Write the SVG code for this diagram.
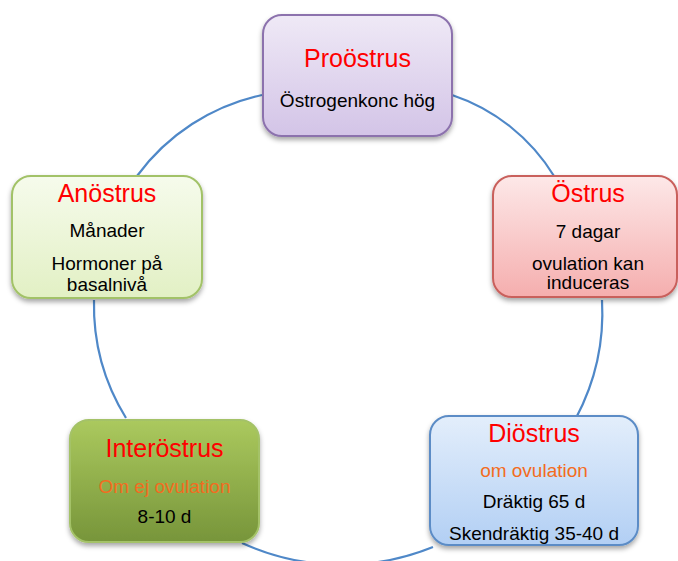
<svg xmlns="http://www.w3.org/2000/svg" width="678" height="561" viewBox="0 0 678 561">
<style>
.box{stroke-width:2;filter:url(#sh)}
.t{font-family:"Liberation Sans",Arial,sans-serif;text-anchor:middle}
.ti{font-size:25px;fill:#ff0000}
.b{font-size:19px;fill:#000}
.o{font-size:19px;fill:#f36c21}
.conn{fill:none;stroke:#4f88c8;stroke-width:2.2}
</style>
<defs>
<filter id="sh" x="-10%" y="-10%" width="125%" height="130%">
<feDropShadow dx="0" dy="3" stdDeviation="2.5" flood-color="#000" flood-opacity="0.35"/>
</filter>
<linearGradient id="gP" x1="0" y1="0" x2="0" y2="1"><stop offset="0" stop-color="#efe9f6"/><stop offset="1" stop-color="#d3c4e7"/></linearGradient>
<linearGradient id="gA" x1="0" y1="0" x2="0" y2="1"><stop offset="0" stop-color="#f6fbec"/><stop offset="1" stop-color="#e2f0c4"/></linearGradient>
<linearGradient id="gO" x1="0" y1="0" x2="0" y2="1"><stop offset="0" stop-color="#fde8e8"/><stop offset="1" stop-color="#f5aeae"/></linearGradient>
<linearGradient id="gD" x1="0" y1="0" x2="0" y2="1"><stop offset="0" stop-color="#e3eefb"/><stop offset="1" stop-color="#b2cff4"/></linearGradient>
<linearGradient id="gI" x1="0" y1="0" x2="0" y2="1"><stop offset="0" stop-color="#abc95e"/><stop offset="1" stop-color="#77953a"/></linearGradient>
</defs>
<g id="connectors">
<path class="conn" d="M452,95 A190,190 0 0 1 554,176"/>
<path class="conn" d="M602,300 A225,225 0 0 1 576,418"/>
<path class="conn" d="M433,547 A242,242 0 0 1 242,543"/>
<path class="conn" d="M126,418 A215,215 0 0 1 94,300"/>
<path class="conn" d="M137,176 A210,210 0 0 1 262,95"/>
</g>
<g id="proostrus">
<rect class="box" x="263" y="15" width="189" height="121" rx="19" fill="url(#gP)" stroke="#8c72ad"/>
<text class="t ti" x="357.5" y="67">Proöstrus</text>
<text class="t b" x="357.5" y="106.5">Östrogenkonc hög</text>
</g>
<g id="ostrus">
<rect class="box" x="493" y="176" width="184" height="121" rx="19" fill="url(#gO)" stroke="#c9605c"/>
<text class="t ti" x="588" y="201.5">Östrus</text>
<text class="t b" x="588" y="238">7 dagar</text>
<text class="t b" x="588" y="270">ovulation kan</text>
<text class="t b" x="588" y="289">induceras</text>
</g>
<g id="diostrus">
<rect class="box" x="430" y="416" width="208" height="129" rx="19" fill="url(#gD)" stroke="#5b8cc6"/>
<text class="t ti" x="534" y="441.5">Diöstrus</text>
<text class="t o" x="534" y="476.5">om ovulation</text>
<text class="t b" x="534" y="508">Dräktig 65 d</text>
<text class="t b" x="534" y="540">Skendräktig 35-40 d</text>
</g>
<g id="interostrus">
<rect class="box" x="70" y="420" width="189" height="122" rx="19" fill="url(#gI)" stroke="#a4c267"/>
<text class="t ti" x="164.5" y="456.5">Interöstrus</text>
<text class="t o" x="164.5" y="492.5">Om ej ovulation</text>
<text class="t b" x="164.5" y="523">8-10 d</text>
</g>
<g id="anostrus">
<rect class="box" x="12" y="176" width="190" height="122" rx="19" fill="url(#gA)" stroke="#a2c267"/>
<text class="t ti" x="107" y="201.5">Anöstrus</text>
<text class="t b" x="107" y="236.5">Månader</text>
<text class="t b" x="107" y="269.5">Hormoner på</text>
<text class="t b" x="107" y="290.5">basalnivå</text>
</g>
</svg>
